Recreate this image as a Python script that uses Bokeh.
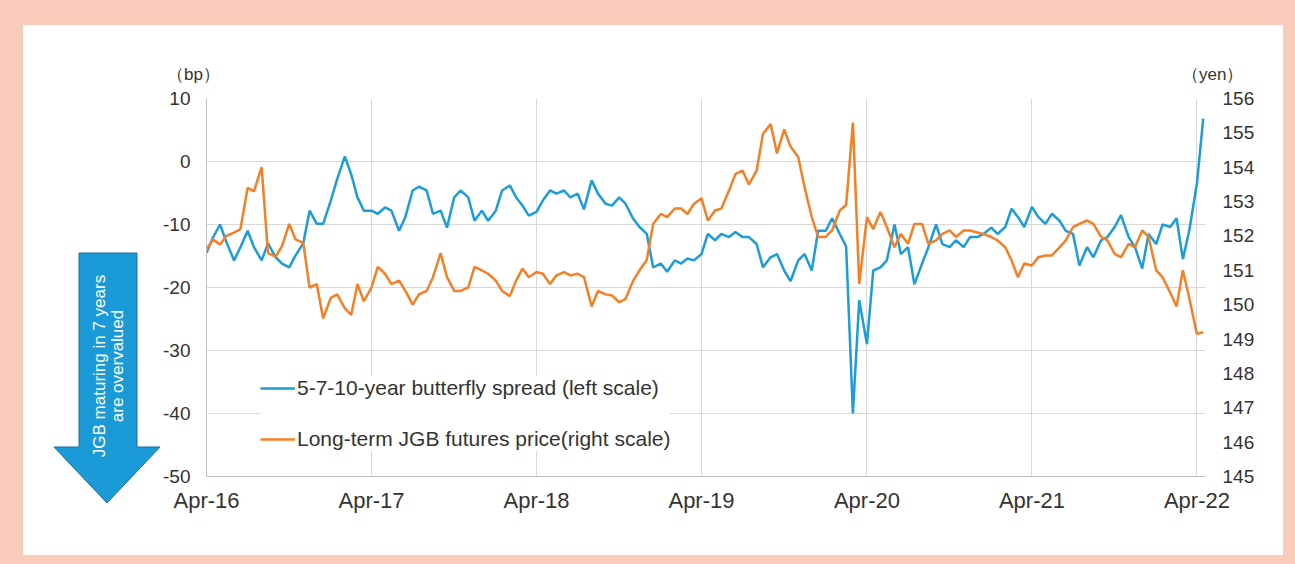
import pandas as pd
from bokeh.plotting import figure
from bokeh.models import (Range1d, LinearAxis, FixedTicker, DatetimeTickFormatter,
                          Legend, LegendItem, Div)
from bokeh.layouts import column, row
from bokeh.embed import file_html
from bokeh.resources import INLINE

# ---------------- data (semi-monthly readings, Apr-2016 .. Apr-2022) ----------------
start_date = "2016-04-01"
end_date = "2022-04-20"

spread_bp = [
    -14.5, -12.1, -10.0, -12.8, -15.7, -13.6, -11.0, -13.6, -15.7, -13.0, -15.2, -16.2,
    -16.8, -14.9, -13.0, -7.8, -9.9, -9.9, -6.2, -2.8, 0.8, -2.0, -5.7, -7.8,
    -7.8, -8.3, -7.3, -7.8, -11.0, -8.8, -4.6, -4.0, -4.6, -8.3, -7.8, -10.5,
    -5.7, -4.6, -5.7, -9.4, -7.8, -9.4, -7.8, -4.6, -3.8, -5.7, -7.0, -8.6,
    -8.0, -6.2, -4.6, -5.1, -4.6, -5.7, -5.1, -7.6, -3.0, -5.1, -6.7, -7.0,
    -5.7, -6.7, -9.1, -10.4, -11.5, -16.8, -16.2, -17.5, -15.7, -16.2, -15.4, -15.7,
    -14.7, -11.5, -12.5, -11.5, -12.0, -11.2, -12.0, -12.0, -13.1, -16.8, -15.2, -14.7,
    -17.3, -19.0, -15.7, -14.7, -17.3, -11.0, -11.0, -9.0, -11.5, -13.5, -40.0, -22.0,
    -29.0, -17.3, -16.8, -15.7, -10.0, -14.7, -13.6, -19.5, -16.2, -13.6, -10.0, -13.1,
    -13.6, -12.5, -13.6, -12.0, -12.0, -11.5, -10.5, -11.5, -10.4, -7.5, -8.8, -10.4,
    -7.2, -8.8, -9.9, -8.3, -9.4, -11.0, -11.5, -16.5, -13.6, -15.2, -12.5, -12.0,
    -10.4, -8.5, -12.0, -13.6, -17.0, -11.5, -13.1, -10.0, -10.4, -9.0, -15.5, -11.0,
    -3.5, 6.8,
]

futures_yen = [
    151.6, 151.9, 151.75, 152.0, 152.1, 152.2, 153.4, 153.3, 154.0, 151.5, 151.4, 151.7,
    152.35, 151.9, 151.8, 150.5, 150.6, 149.6, 150.2, 150.3, 149.9, 149.7, 150.6, 150.1,
    150.5, 151.1, 150.9, 150.6, 150.7, 150.4, 150.0, 150.3, 150.4, 150.8, 151.5, 150.8,
    150.4, 150.4, 150.5, 151.1, 151.0, 150.9, 150.7, 150.4, 150.25, 150.7, 151.05, 150.8,
    150.95, 150.9, 150.6, 150.85, 150.95, 150.85, 150.9, 150.8, 149.95, 150.4, 150.3, 150.27,
    150.07, 150.17, 150.7, 151.0, 151.3, 152.35, 152.64, 152.55, 152.8, 152.8, 152.64, 152.93,
    153.1, 152.45, 152.74, 152.8, 153.32, 153.8, 153.9, 153.5, 153.9, 154.97, 155.26, 154.4,
    155.1, 154.6, 154.3, 153.42, 152.55, 151.97, 151.97, 152.16, 152.74, 152.9, 155.3, 150.6,
    152.55, 152.2, 152.7, 152.26, 151.67, 152.06, 151.77, 152.35, 152.35, 151.77, 151.87, 152.06,
    152.16, 151.97, 152.16, 152.16, 152.1, 152.06, 151.97, 151.87, 151.67, 151.29, 150.8, 151.2,
    151.14, 151.38, 151.43, 151.43, 151.67, 151.87, 152.26, 152.35, 152.45, 152.35, 151.97, 151.87,
    151.48, 151.38, 151.77, 151.67, 152.16, 151.97, 151.0, 150.8, 150.35, 149.95, 151.0, 150.2,
    149.15, 149.2,
]

tick_dates = ["2016-04-01", "2017-04-01", "2018-04-01", "2019-04-01",
              "2020-04-01", "2021-04-01", "2022-04-01"]
left_ticks = [-50, -40, -30, -20, -10, 0, 10]
right_ticks = [145, 146, 147, 148, 149, 150, 151, 152, 153, 154, 155, 156]

series_names = ["5-7-10-year butterfly spread (left scale)",
                "Long-term JGB futures price(right scale)"]
left_unit = "（bp）"
right_unit = "（yen）"
arrow_lines = ["JGB maturing in 7 years", "are overvalued"]

# ---------------- styling ----------------
FONT = "Liberation Sans"
TXT = "#333333"
BLUE = "#1C9CD8"
ORANGE = "#F47F24"
GRID = "#D9D9D9"
AXIS = "#BFBFBF"
PINK = "#F9CBBB"
ARROW_FILL = "#1A9AD6"
ARROW_LINE = "#1F6E9E"


def ms(d):
    return pd.Timestamp(d).value / 1e6


dates = pd.date_range(start_date, periods=len(spread_bp), freq="SMS")

p = figure(width=1123, height=470, x_axis_type="datetime",
           x_range=Range1d(ms(start_date), ms(end_date)),
           y_range=Range1d(-50, 10),
           output_backend="svg", toolbar_location=None,
           min_border_left=45, min_border_right=78,
           min_border_top=13, min_border_bottom=79,
           background_fill_color="white", border_fill_color="white",
           outline_line_color=None)
p.extra_y_ranges = {"yen": Range1d(145, 156)}

xt = FixedTicker(ticks=[ms(d) for d in tick_dates])
p.xaxis.ticker = xt
fmt = "%b-%y"
p.xaxis.formatter = DatetimeTickFormatter(
    microseconds=fmt, milliseconds=fmt, seconds=fmt, minsec=fmt, minutes=fmt,
    hourmin=fmt, hours=fmt, days=fmt, months=fmt, years=fmt)
p.yaxis.ticker = FixedTicker(ticks=left_ticks)
p.yaxis.major_label_overrides = {t: str(t) for t in left_ticks}

ra = LinearAxis(y_range_name="yen", ticker=FixedTicker(ticks=right_ticks))
p.add_layout(ra, "right")

for ax in [p.xaxis[0], p.yaxis[0], ra]:
    ax.major_label_text_font = FONT
    ax.major_label_text_color = TXT
    ax.major_tick_line_color = None
    ax.minor_tick_line_color = None
    ax.major_tick_out = 0
    ax.major_tick_in = 0
p.xaxis[0].major_label_text_font_size = "22px"
p.yaxis[0].major_label_text_font_size = "19px"
ra.major_label_text_font_size = "19px"
p.xaxis[0].axis_line_color = AXIS
p.yaxis[0].axis_line_color = AXIS
ra.axis_line_color = None
p.xaxis[0].major_label_standoff = 11
p.yaxis[0].major_label_standoff = 16
ra.major_label_standoff = 17

p.xgrid.grid_line_color = GRID
p.ygrid.grid_line_color = GRID
p.xgrid.ticker = xt

r1 = p.line(dates, spread_bp, line_color=BLUE, line_width=2.5)
r2 = p.line(dates, futures_yen, line_color=ORANGE, line_width=2.5, y_range_name="yen")

legend = Legend(items=[LegendItem(label=series_names[0], renderers=[r1]),
                       LegendItem(label=series_names[1], renderers=[r2])],
                location=(54, 25), orientation="vertical",
                label_text_font=FONT, label_text_font_size="21px",
                label_text_color=TXT, glyph_width=35, glyph_height=20,
                label_height=20, label_standoff=2, spacing=27, padding=15,
                border_line_color=None, background_fill_color="white",
                background_fill_alpha=1.0)
p.add_layout(legend)

# ---------------- header with the unit captions ----------------
header = Div(
    width=1260, height=60, margin=0, styles={"background-color": "white"},
    text=(f'<div style="position:relative;width:1260px;height:60px;background:white;'
          f'font-family:\'{FONT}\';font-size:17px;color:{TXT};line-height:20px;">'
          f'<span style="position:absolute;left:144px;top:40px;white-space:nowrap;">{left_unit}</span>'
          f'<span style="position:absolute;left:1159px;top:40px;white-space:nowrap;">{right_unit}</span>'
          f'</div>'))

# ---------------- arrow panel (decoration left of the value axis) ----------------
arrow_pts = "56,168 114,168 114,362 137,362 84,418 31,362 56,362"
arrow_svg = (
    f'<svg xmlns="http://www.w3.org/2000/svg" width="138" height="470" '
    f'style="display:block;background:white">'
    f'<polygon points="{arrow_pts}" fill="{ARROW_FILL}" stroke="{ARROW_LINE}" stroke-width="1"/>'
    f'<text x="76" y="281" transform="rotate(-90 76 281)" text-anchor="middle" '
    f'dominant-baseline="central" fill="white" font-family="{FONT}" font-size="17">{arrow_lines[0]}</text>'
    f'<text x="94" y="281" transform="rotate(-90 94 281)" text-anchor="middle" '
    f'dominant-baseline="central" fill="white" font-family="{FONT}" font-size="17">{arrow_lines[1]}</text>'
    f'</svg>')
arrow = Div(width=137, height=470, margin=0, styles={"background-color": "white"},
            text=arrow_svg)

body = row(arrow, p, styles={"background-color": "white"})
layout = column(header, body,
                styles={"background-color": PINK, "padding": "25px 12px 9px 23px"})

open("out.html", "w").write(file_html(layout, INLINE))
